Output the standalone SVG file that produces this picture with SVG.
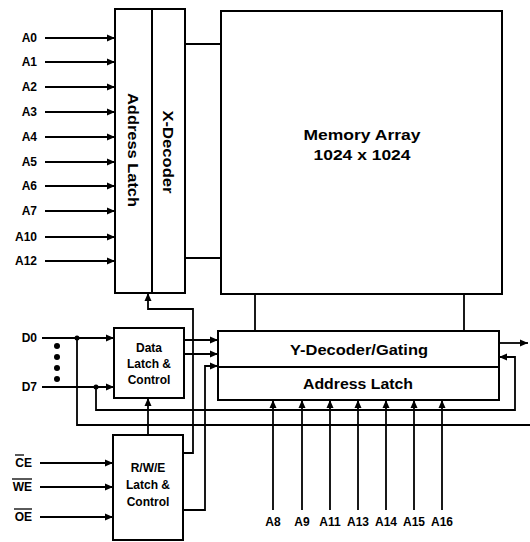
<svg xmlns="http://www.w3.org/2000/svg" width="530" height="542" viewBox="0 0 530 542">
<style>
.box{fill:#fff;stroke:#000;stroke-width:2}
.ln{fill:none;stroke:#000;stroke-width:1.8}
.arr{marker-end:url(#ah)}
.lbl{font-family:"Liberation Sans",Arial,sans-serif;font-weight:bold;font-size:12px;fill:#000}
.t{font-family:"Liberation Sans",Arial,sans-serif;font-weight:bold;fill:#000;text-anchor:middle}
</style>
<defs>
<marker id="ah" markerUnits="userSpaceOnUse" markerWidth="9" markerHeight="8" refX="8" refY="4" orient="auto">
<path d="M0,0.5 L8,4 L0,7.5 Z" fill="#000"/>
</marker>
</defs>
<rect width="530" height="542" fill="#fff"/>
<g id="connectors">
<path class="ln arr" d="M45 38 H115"/>
<path class="ln arr" d="M45 62 H115"/>
<path class="ln arr" d="M45 87 H115"/>
<path class="ln arr" d="M45 112 H115"/>
<path class="ln arr" d="M45 137 H115"/>
<path class="ln arr" d="M45 162 H115"/>
<path class="ln arr" d="M45 186 H115"/>
<path class="ln arr" d="M45 211 H115"/>
<path class="ln arr" d="M45 237 H115"/>
<path class="ln arr" d="M45 261 H115"/>
<path class="ln" d="M185 44 H221"/>
<path class="ln" d="M185 258 H221"/>
<path class="ln" d="M255 294 V331"/>
<path class="ln" d="M464 294 V331"/>
<path class="ln arr" d="M42 338 H114"/>
<path class="ln arr" d="M42 387 H114"/>
<path class="ln" d="M77 338 V425 H530"/>
<path class="ln arr" d="M96 387 V410 H515 V357 H499"/>
<path class="ln arr" d="M184 340 H218"/>
<path class="ln arr" d="M184 354 H218"/>
<path class="ln arr" d="M183 510 H205 V366 H218"/>
<path class="ln arr" d="M183 453 H193 V309 H148 V293"/>
<path class="ln arr" d="M148 435 V398"/>
<path class="ln arr" d="M40 463 H113"/>
<path class="ln arr" d="M40 487 H113"/>
<path class="ln arr" d="M40 517 H113"/>
<path class="ln arr" d="M273 510 V400"/>
<path class="ln arr" d="M302 510 V400"/>
<path class="ln arr" d="M330 510 V400"/>
<path class="ln arr" d="M358 510 V400"/>
<path class="ln arr" d="M386 510 V400"/>
<path class="ln arr" d="M414 510 V400"/>
<path class="ln arr" d="M442 510 V400"/>
<path class="ln arr" d="M499 343 H528"/>
<circle cx="77" cy="338" r="2.5"/>
<circle cx="96" cy="387" r="2.5"/>
</g>
<g id="address-latch-xdecoder">
<rect class="box" x="115" y="9" width="70" height="284"/>
<line x1="152" y1="9" x2="152" y2="293" stroke="#000" stroke-width="2"/>
<text class="t" font-size="15" transform="translate(133,150) rotate(90)" dominant-baseline="central" textLength="114" lengthAdjust="spacingAndGlyphs">Address Latch</text>
<text class="t" font-size="15" transform="translate(168,152) rotate(90)" dominant-baseline="central" textLength="83" lengthAdjust="spacingAndGlyphs">X-Decoder</text>
</g>
<g id="memory-array">
<rect class="box" x="221" y="11" width="281" height="283"/>
<text class="t" font-size="15" x="362" y="140" textLength="117" lengthAdjust="spacingAndGlyphs">Memory Array</text>
<text class="t" font-size="15" x="362" y="160" textLength="97" lengthAdjust="spacingAndGlyphs">1024 x 1024</text>
</g>
<g id="y-decoder">
<rect class="box" x="218" y="331" width="281" height="69"/>
<line x1="218" y1="367" x2="499" y2="367" stroke="#000" stroke-width="2"/>
<text class="t" font-size="15" x="359" y="355" textLength="138" lengthAdjust="spacingAndGlyphs">Y-Decoder/Gating</text>
<text class="t" font-size="15" x="358" y="389" textLength="110" lengthAdjust="spacingAndGlyphs">Address Latch</text>
</g>
<g id="data-latch">
<rect class="box" x="114" y="328" width="70" height="70"/>
<text class="t" font-size="12" x="149" y="352">Data</text>
<text class="t" font-size="12" x="149" y="368">Latch &amp;</text>
<text class="t" font-size="12" x="149" y="384">Control</text>
</g>
<g id="rwe-latch">
<rect class="box" x="113" y="435" width="70" height="105"/>
<text class="t" font-size="12" x="148" y="472">R/W/E</text>
<text class="t" font-size="12" x="148" y="489">Latch &amp;</text>
<text class="t" font-size="12" x="148" y="506">Control</text>
</g>
<g id="data-dots">
<circle cx="57" cy="346" r="3"/>
<circle cx="57" cy="357" r="3"/>
<circle cx="57" cy="368" r="3"/>
<circle cx="57" cy="379" r="3"/>
</g>
<g id="labels">
<g class="lbl" text-anchor="end">
<text x="37" y="42">A0</text>
<text x="37" y="66">A1</text>
<text x="37" y="91">A2</text>
<text x="37" y="116">A3</text>
<text x="37" y="141">A4</text>
<text x="37" y="166">A5</text>
<text x="37" y="190">A6</text>
<text x="37" y="215">A7</text>
<text x="37" y="241">A10</text>
<text x="37" y="265">A12</text>
<text x="37" y="342">D0</text>
<text x="37" y="391">D7</text>
<text x="32" y="467">CE</text>
<text x="32" y="491">WE</text>
<text x="32" y="521">OE</text>
</g>
<line x1="15" y1="455" x2="24" y2="455" stroke="#000" stroke-width="1.3"/>
<line x1="12" y1="479" x2="32" y2="479" stroke="#000" stroke-width="1.3"/>
<line x1="14" y1="509" x2="32" y2="509" stroke="#000" stroke-width="1.3"/>
<g class="lbl" text-anchor="middle">
<text x="273" y="526">A8</text>
<text x="302" y="526">A9</text>
<text x="330" y="526">A11</text>
<text x="358" y="526">A13</text>
<text x="386" y="526">A14</text>
<text x="414" y="526">A15</text>
<text x="442" y="526">A16</text>
</g>
</g>
</svg>
